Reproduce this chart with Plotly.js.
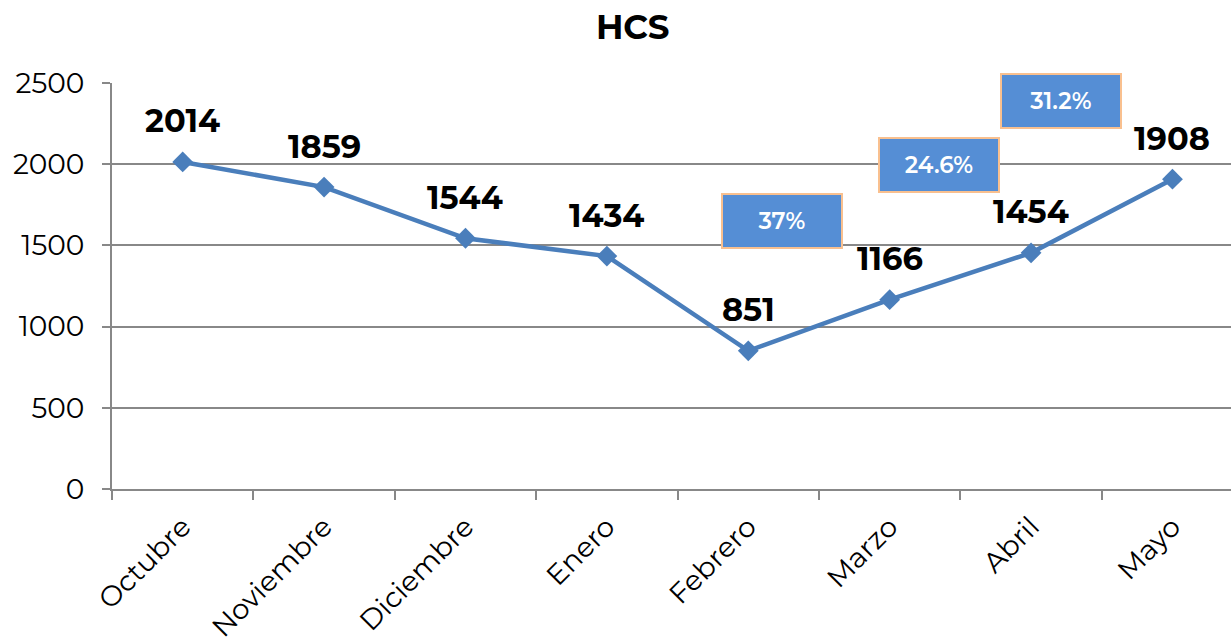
<!DOCTYPE html>
<html>
<head>
<meta charset="utf-8">
<script src="https://cdn.plot.ly/plotly-3.0.1.min.js"></script>
<style>
  html, body { margin: 0; padding: 0; background: #ffffff; }
  #chart { width: 1231px; height: 643px; }
</style>
</head>
<body>
<div id="chart"></div>
<script>
// Data
const months = ['Octubre', 'Noviembre', 'Diciembre', 'Enero', 'Febrero', 'Marzo', 'Abril', 'Mayo'];
const hcs = [2014, 1859, 1544, 1434, 851, 1166, 1454, 1908];

// Percentage callouts
const pctLabels = ['37%', '24.6%', '31.2%'];
const pctX = [4.24, 5.35, 6.21];
const pctY = [1650, 1995, 2389];

const font = 'Montserrat, "Noto Sans", sans-serif';

const trace = {
    x: months,
    y: hcs,
    type: 'scatter',
    mode: 'lines+markers',
    line: { color: '#4A7EBB', width: 4.5 },
    marker: { symbol: 'diamond', size: 16, color: '#4A7EBB' },
    hoverinfo: 'x+y'
};

const valueLabels = months.map((m, i) => ({
    x: m,
    y: hcs[i],
    text: '<b>' + hcs[i] + '</b>',
    showarrow: false,
    yshift: 41,
    font: { family: font, size: 32, color: '#000000' }
}));

const pctBoxes = pctLabels.map((t, i) => ({
    x: pctX[i],
    y: pctY[i],
    text: t,
    showarrow: false,
    width: 116,
    height: 50,
    bgcolor: '#558ED5',
    bordercolor: '#F9C08F',
    borderwidth: 2,
    font: { family: font, size: 23, weight: 600, color: '#ffffff' }
}));

const layout = {
    width: 1231,
    height: 643,
    paper_bgcolor: '#ffffff',
    plot_bgcolor: 'rgba(0,0,0,0)',
    margin: { l: 112, r: 0, t: 83, b: 154 },
    showlegend: false,
    title: {
        text: '<b>HCS</b>',
        x: 0.514,
        xref: 'container',
        xanchor: 'center',
        y: 0.958,
        yref: 'container',
        yanchor: 'middle',
        font: { family: font, size: 34, color: '#000000' }
    },
    xaxis: {
        type: 'category',
        range: [-0.5, 7.414],
        tickson: 'boundaries',
        ticks: 'outside',
        ticklen: 9,
        tickwidth: 2,
        tickcolor: '#888888',
        showline: true,
        linecolor: '#888888',
        linewidth: 2,
        showgrid: false,
        tickangle: -45,
        ticklabelstandoff: 8,
        tickfont: { family: font, size: 28, color: '#000000' }
    },
    yaxis: {
        range: [0, 2500],
        dtick: 500,
        ticks: 'outside',
        ticklen: 8,
        tickwidth: 2,
        tickcolor: '#888888',
        showline: true,
        linecolor: '#888888',
        linewidth: 2,
        showgrid: true,
        gridcolor: '#888888',
        gridwidth: 1.5,
        zeroline: false,
        ticklabelstandoff: 12,
        tickfont: { family: font, size: 28, color: '#000000' }
    },
    annotations: valueLabels.concat(pctBoxes)
};

Plotly.newPlot('chart', [trace], layout, { displayModeBar: false });
</script>
</body>
</html>
